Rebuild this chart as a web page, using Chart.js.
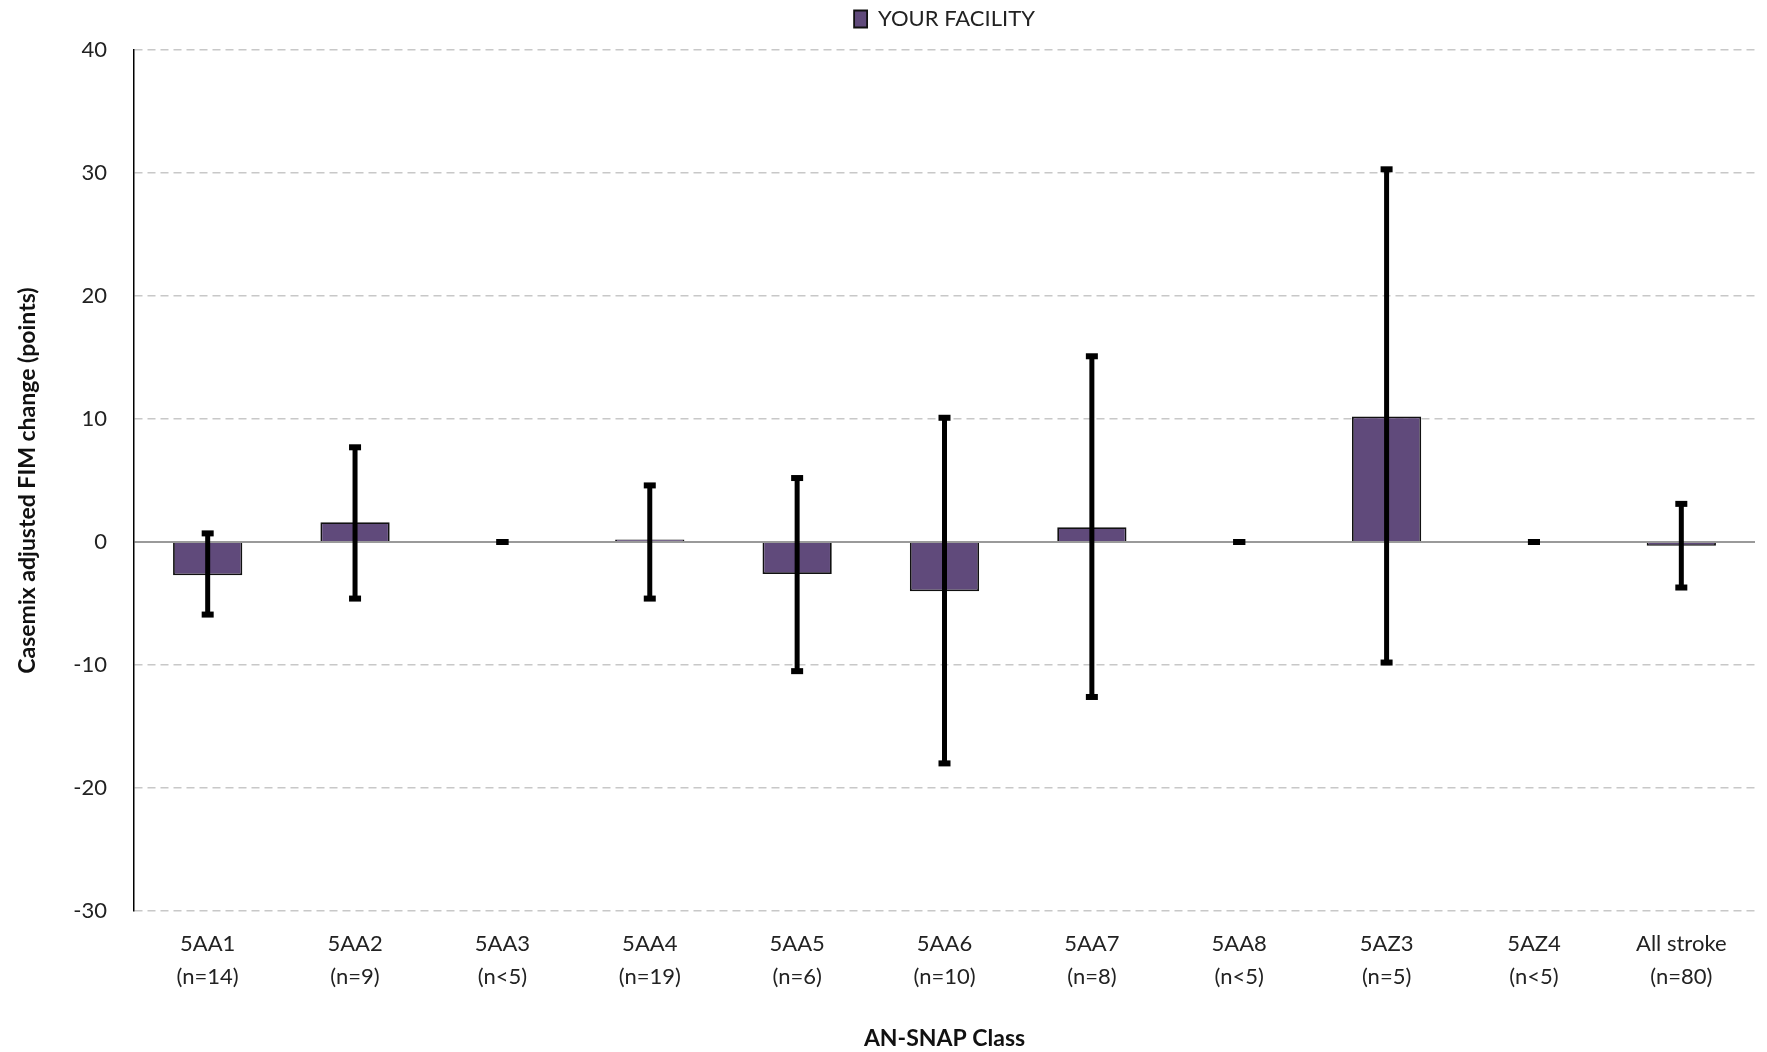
<!DOCTYPE html>
<html>
<head>
<meta charset="utf-8">
<script src="https://cdn.jsdelivr.net/npm/chart.js@4.4.0/dist/chart.umd.min.js"></script>
<style>
  body { margin: 0; background: #fff; }
  #wrap { width: 1767px; height: 1052px; }
</style>
</head>
<body>
<div id="wrap"><canvas id="chart" width="1767" height="1052"></canvas></div>
<script>
// categories + sample sizes
const clases = ["5AA1", "5AA2", "5AA3", "5AA4", "5AA5", "5AA6", "5AA7", "5AA8", "5AZ3", "5AZ4", "All stroke"];
const tamanos = ["(n=14)", "(n=9)", "(n<5)", "(n=19)", "(n=6)", "(n=10)", "(n=8)", "(n<5)", "(n=5)", "(n<5)", "(n=80)"];

// casemix adjusted FIM change and the error bar ends
const valores = [-2.7, 1.6, 0, 0.2, -2.6, -4.0, 1.2, 0, 10.2, 0, -0.3];
const errorAlto = [0.7, 7.7, 0, 4.6, 5.2, 10.1, 15.1, 0, 30.3, 0, 3.1];
const errorBajo = [-5.9, -4.6, 0, -4.6, -10.5, -18.0, -12.6, 0, -9.8, 0, -3.7];

const ticksY = [-30, -20, -10, 0, 10, 20, 30, 40];

const fuente = "Lato, 'Open Sans', sans-serif";

// draws the error bars on top of the bars
const barrasError = {
    id: "barrasError",
    afterDatasetsDraw(chart) {
        const ctx = chart.ctx;
        const escalaY = chart.scales.y;
        const meta = chart.getDatasetMeta(0);
        ctx.save();
        ctx.fillStyle = "#000";
        ctx.strokeStyle = "#000";
        ctx.lineWidth = 5;
        meta.data.forEach((barra, i) => {
            const x = barra.x;
            const yAlto = escalaY.getPixelForValue(errorAlto[i]);
            const yBajo = escalaY.getPixelForValue(errorBajo[i]);
            ctx.beginPath();
            ctx.moveTo(x, yAlto);
            ctx.lineTo(x, yBajo);
            ctx.stroke();
            ctx.fillRect(x - 6, yAlto - 3, 12, 6);
            ctx.fillRect(x - 6, yBajo - 3, 12, 6);
        });
        ctx.restore();
    }
};

// extra gap under the legend
const espacioLeyenda = {
    id: "espacioLeyenda",
    beforeLayout(chart) {
        const lg = chart.legend;
        if (lg && !lg._parcheado) {
            const fitOriginal = lg.fit.bind(lg);
            lg.fit = function () {
                fitOriginal();
                this.height += 10;
            };
            lg._parcheado = true;
        }
    }
};

const contexto = document.getElementById("chart").getContext("2d");

new Chart(contexto, {
    type: "bar",
    data: {
        labels: clases.map((c, i) => [c, tamanos[i]]),
        datasets: [{
            label: "YOUR FACILITY",
            data: valores,
            backgroundColor: "#604a7b",
            borderColor: "#111",
            borderWidth: 1.8,
            categoryPercentage: 1,
            barPercentage: 0.47
        }]
    },
    options: {
        responsive: false,
        animation: false,
        layout: { padding: { top: 0, right: 12, bottom: 0, left: 0 } },
        plugins: {
            legend: {
                fullSize: false,
                labels: {
                    font: { family: fuente, size: 22 },
                    color: "#222",
                    boxWidth: 13,
                    boxHeight: 17,
                    padding: 8
                }
            },
            tooltip: { enabled: false }
        },
        scales: {
            x: {
                grid: { display: false },
                border: { display: false },
                ticks: {
                    font: { family: fuente, size: 22, lineHeight: 1.5 },
                    color: "#222",
                    padding: 8,
                    maxRotation: 0,
                    autoSkip: false
                },
                title: {
                    display: true,
                    text: "AN-SNAP Class",
                    font: { family: fuente, size: 23, weight: "bold" },
                    color: "#111",
                    padding: { top: 0, bottom: 0 }
                },
                afterFit(escala) { escala.height = 141; }
            },
            y: {
                min: -30,
                max: 40,
                afterBuildTicks(escala) { escala.ticks = ticksY.map(v => ({ value: v })); },
                grid: {
                    drawTicks: false,
                    color: c => (c.tick && c.tick.value === 0) ? "#9a9a9a" : "#c8c8c8",
                    lineWidth: c => (c.tick && c.tick.value === 0) ? 2 : 1.5
                },
                border: {
                    display: true,
                    color: "#000",
                    width: 1.5,
                    dash: c => (c.tick && c.tick.value === 0) ? [] : [8, 5]
                },
                ticks: {
                    font: { family: fuente, size: 22 },
                    color: "#222",
                    padding: 27
                },
                title: {
                    display: true,
                    text: "Casemix adjusted FIM change (points)",
                    font: { family: fuente, size: 23, weight: "bold" },
                    color: "#111",
                    padding: { top: 14, bottom: 0 }
                },
                afterFit(escala) { escala.width = 134; }
            }
        }
    },
    plugins: [barrasError, espacioLeyenda]
});
</script>
</body>
</html>
